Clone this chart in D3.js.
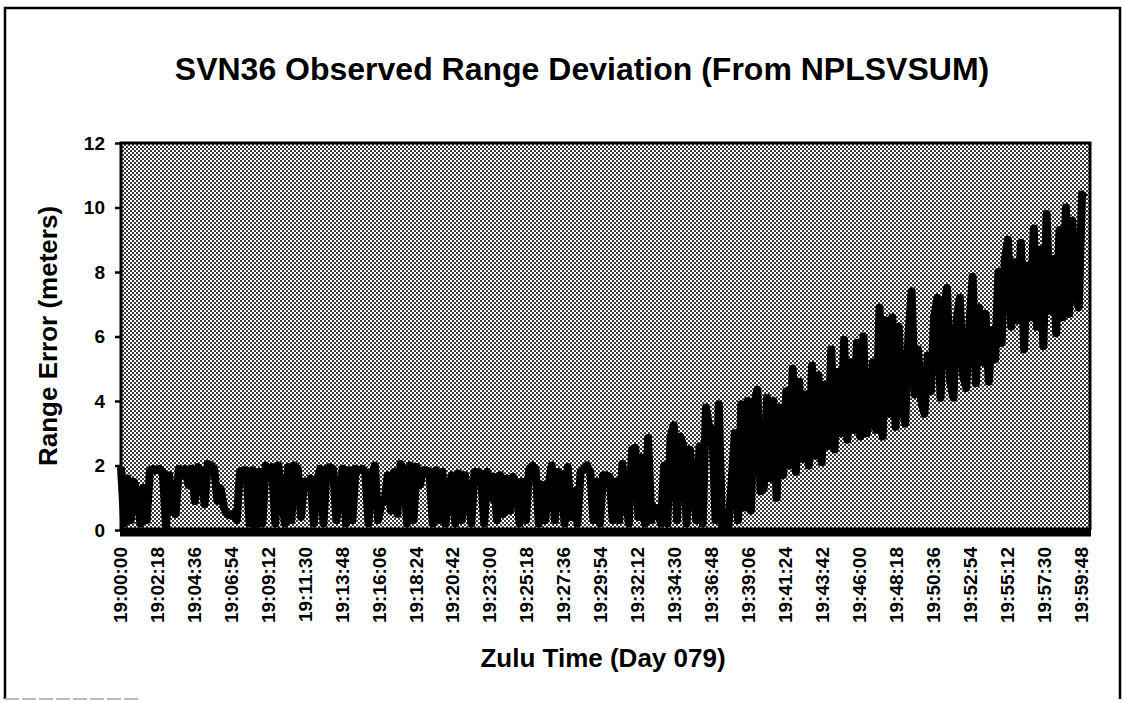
<!DOCTYPE html>
<html>
<head>
<meta charset="utf-8">
<script src="https://cdn.jsdelivr.net/npm/d3@7"></script>
<style>
  body { margin: 0; background: #fff; }
  svg text { font-family: "Liberation Sans", Arial, sans-serif; font-weight: bold; fill: #000; }
</style>
</head>
<body>
<div id="chart"></div>
<script>
// --------------------------------------
// Chart texts
const titleText = "SVN36 Observed Range Deviation (From NPLSVSUM)";
const xTitleText = "Zulu Time (Day 079)";
const yTitleText = "Range Error (meters)";

// Category labels shown on the time axis
const xTickLabels = ["19:00:00", "19:02:18", "19:04:36", "19:06:54", "19:09:12", "19:11:30",
    "19:13:48", "19:16:06", "19:18:24", "19:20:42", "19:23:00", "19:25:18", "19:27:36",
    "19:29:54", "19:32:12", "19:34:30", "19:36:48", "19:39:06", "19:41:24", "19:43:42",
    "19:46:00", "19:48:18", "19:50:36", "19:52:54", "19:55:12", "19:57:30", "19:59:48"];
const yTicks = [0, 2, 4, 6, 8, 10, 12];

// Range error samples (meters), one every 12 s from 19:00:00
const startTime = "19:00:00";
const sampleStepSec = 12;
const rangeError = [
    1.95, 0.2, 1.6, 0.3, 1.5, 1.2, 0.2, 1.3, 0.3, 1.85,
    1.9, 1.85, 1.9, 1.8, 0.1, 1.7, 0.6, 0.5, 1.9, 1.7,
    1.9, 1.4, 1.9, 0.9, 1.95, 1.8, 0.8, 2.05, 2.0, 1.9,
    0.9, 1.3, 0.7, 0.5, 0.45, 0.5, 0.3, 1.8, 1.85, 1.85,
    0.2, 1.85, 0.1, 1.8, 0.2, 2.0, 1.9, 1.95, 0.2, 2.0,
    1.0, 0.2, 1.95, 0.3, 2.0, 1.9, 0.4, 1.5, 1.45, 1.6,
    0.2, 1.5, 1.9, 0.2, 1.9, 1.95, 1.9, 0.3, 1.2, 1.9,
    0.2, 1.85, 0.3, 1.9, 1.85, 1.9, 1.8, 0.2, 1.7, 2.0,
    0.3, 0.8, 0.9, 1.7, 0.6, 1.8, 0.5, 2.05, 1.9, 0.2,
    2.0, 0.3, 1.95, 1.4, 1.85, 1.85, 1.8, 0.2, 1.85, 0.3,
    1.8, 0.2, 1.4, 1.7, 0.2, 1.75, 0.3, 1.7, 1.1, 0.2,
    1.8, 1.8, 1.75, 0.2, 1.8, 1.0, 1.65, 0.3, 1.7, 0.5,
    1.6, 0.6, 1.65, 1.4, 0.2, 1.5, 0.3, 1.9, 2.0, 1.9,
    0.2, 1.4, 0.3, 1.35, 2.0, 0.3, 1.8, 1.7, 0.2, 1.95,
    0.4, 1.2, 0.2, 1.8, 1.9, 2.0, 1.8, 0.3, 1.5, 0.2,
    1.7, 1.7, 1.65, 0.3, 1.5, 0.3, 2.05, 1.1, 0.2, 2.5,
    2.55, 0.4, 2.25, 0.2, 2.85, 0.3, 0.7, 0.6, 0.2, 2.0,
    0.2, 2.9, 3.25, 0.3, 2.9, 2.6, 0.2, 2.5, 1.5, 0.3,
    2.6, 0.2, 3.8, 3.2, 3.1, 0.3, 3.9, 0.1, 0.05, 0.1,
    1.5, 3.0, 0.3, 3.9, 0.7, 4.0, 0.6, 3.9, 4.35, 1.2,
    1.3, 4.1, 1.6, 4.0, 1.0, 3.8, 1.7, 4.3, 2.0, 5.0,
    1.8, 4.6, 2.2, 4.2, 2.0, 5.1, 2.3, 4.8, 2.1, 4.5,
    2.6, 5.6, 2.5, 4.9, 3.0, 5.9, 2.8, 5.2, 3.1, 5.8,
    2.9, 6.0, 3.0, 3.4, 5.2, 3.1, 6.9, 2.9, 6.5, 3.6,
    6.6, 3.2, 6.3, 3.9, 3.3, 6.0, 7.4, 4.2, 5.6, 4.0,
    3.6, 5.4, 4.3, 6.6, 7.2, 4.1, 6.8, 7.5, 4.6, 4.1,
    6.5, 7.2, 4.8, 4.4, 6.4, 7.85, 4.55, 6.9, 5.2, 6.7,
    4.6, 6.2, 5.3, 8.0, 5.8, 8.4, 9.0, 6.3, 8.3, 6.5,
    8.9, 5.6, 8.2, 6.6, 9.35, 6.3, 8.7, 5.7, 9.8, 6.8,
    8.4, 6.1, 9.3, 6.6, 10.0, 6.7, 9.6, 7.3, 6.9, 10.4,
    10.3
];

// --------------------------------------
const width = 1125, height = 702;
const plot = { left: 121, right: 1090, top: 143, bottom: 530 };

const toSec = s => { const p = s.split(":").map(Number); return p[0] * 3600 + p[1] * 60 + p[2]; };
const t0 = toSec(startTime);

const svg = d3.select("#chart").append("svg")
    .attr("width", width)
    .attr("height", height);

svg.append("rect").attr("width", width).attr("height", height).attr("fill", "#fff");

// Halftone look of the scanned plot area
const defs = svg.append("defs");
const pat = defs.append("pattern")
    .attr("id", "halftone")
    .attr("patternUnits", "userSpaceOnUse")
    .attr("width", 4).attr("height", 4);
pat.append("rect").attr("width", 4).attr("height", 4).attr("fill", "#fff");
pat.append("rect").attr("x", 0).attr("y", 0).attr("width", 2).attr("height", 2).attr("fill", "#3a3a3a");
pat.append("rect").attr("x", 2).attr("y", 2).attr("width", 2).attr("height", 2).attr("fill", "#3a3a3a");

// Outer frame
const frame = svg.append("g").attr("fill", "none");
frame.append("path").attr("d", `M5,699 L5,8 L1120,8 L1120,699`).attr("stroke", "#000").attr("stroke-width", 2.5);
frame.append("line").attr("x1", 5).attr("x2", 140).attr("y1", 699).attr("y2", 699)
    .attr("stroke", "#bbb").attr("stroke-width", 2).attr("stroke-dasharray", "14 3");

// Scales
const x = d3.scaleLinear().domain([0, 3618]).range([plot.left, plot.right]);
const y = d3.scaleLinear().domain([0, 12]).range([plot.bottom, plot.top]);

svg.append("rect")
    .attr("x", plot.left).attr("y", plot.top)
    .attr("width", plot.right - plot.left).attr("height", plot.bottom - plot.top)
    .attr("fill", "url(#halftone)");

// Data line
const line = d3.line()
    .x((d, i) => x(i * sampleStepSec))
    .y(d => y(d));

svg.append("path")
    .datum(rangeError)
    .attr("d", line)
    .attr("fill", "none")
    .attr("stroke", "#000")
    .attr("stroke-width", 8)
    .attr("stroke-linejoin", "round");

// Plot border
svg.append("path")
    .attr("d", `M${plot.left},${plot.bottom} L${plot.left},${plot.top} L${plot.right},${plot.top} L${plot.right},${plot.bottom}`)
    .attr("fill", "none").attr("stroke", "#000").attr("stroke-width", 3);

// Y axis
const yAxis = svg.append("g")
    .attr("transform", `translate(${plot.left},0)`)
    .call(d3.axisLeft(y).tickValues(yTicks).tickSize(6).tickPadding(10).tickFormat(d3.format("d")));
yAxis.select(".domain").remove();
yAxis.selectAll(".tick line").attr("stroke", "#000").attr("stroke-width", 2.5);
yAxis.selectAll(".tick text").style("font-size", "19px").style("font-family", "'Liberation Sans', Arial, sans-serif").style("font-weight", "bold");

// X axis: thick base line and rotated time labels
svg.append("line")
    .attr("x1", plot.left - 1).attr("x2", plot.right + 1)
    .attr("y1", y(0) + 2).attr("y2", y(0) + 2)
    .attr("stroke", "#000").attr("stroke-width", 9);

svg.append("g")
    .selectAll("text")
    .data(xTickLabels)
    .join("text")
    .attr("transform", d => `translate(${x(toSec(d) - t0) - 1},547) rotate(-90)`)
    .attr("text-anchor", "end")
    .attr("dy", "0.36em")
    .style("font-size", "19px")
    .text(d => d);

// Titles
svg.append("text")
    .attr("x", 582).attr("y", 80)
    .attr("text-anchor", "middle")
    .style("font-size", "32px")
    .text(titleText);

svg.append("text")
    .attr("transform", `translate(48,336) rotate(-90)`)
    .attr("text-anchor", "middle")
    .attr("dy", "0.35em")
    .style("font-size", "26px")
    .text(yTitleText);

svg.append("text")
    .attr("x", 603).attr("y", 667)
    .attr("text-anchor", "middle")
    .style("font-size", "26px")
    .text(xTitleText);
</script>
</body>
</html>
